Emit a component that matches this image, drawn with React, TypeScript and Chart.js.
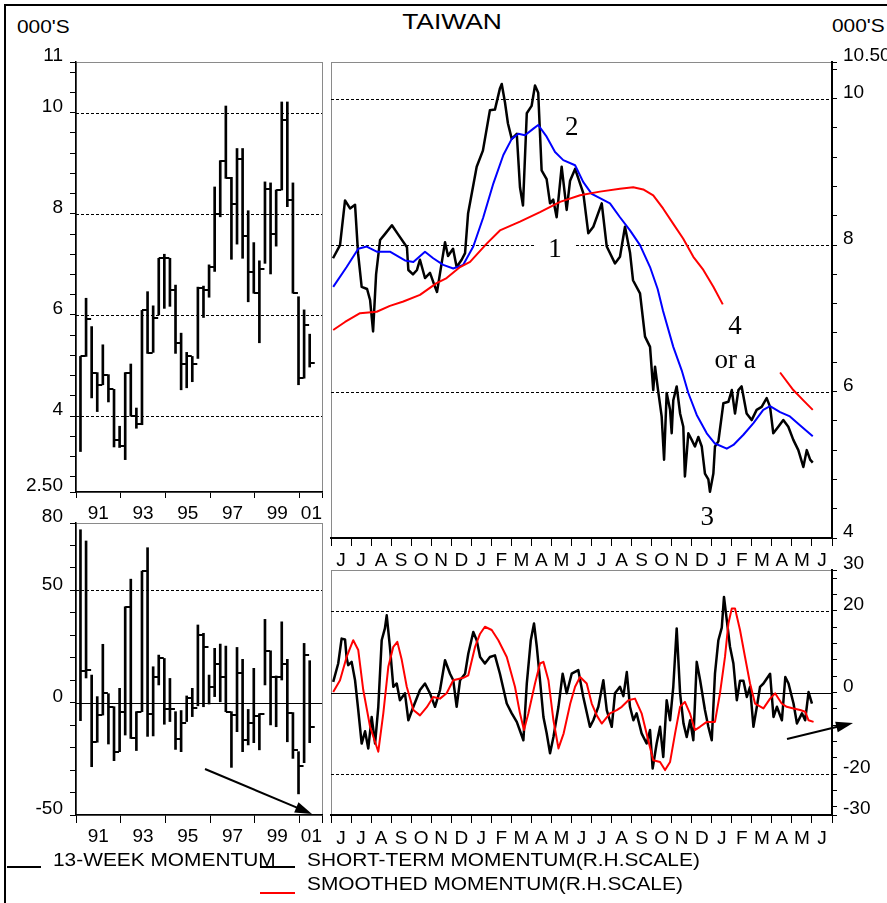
import React, { useEffect, useRef } from 'react';
import { Chart, registerables } from 'chart.js';

Chart.register(...registerables);

// ================= DATA =================
// Quarterly index (000's) : high / low / close
const quarterHigh = [5.18, 6.33, 5.77, 4.86, 5.41, 4.82, 4.53, 3.80, 4.86, 5.03, 4.16, 6.09, 6.46, 6.18, 7.12, 7.20, 7.12, 6.59, 5.64, 5.26, 5.18, 6.55, 6.57, 6.99, 8.53, 9.05, 10.13, 8.72, 9.29, 9.29, 8.06, 7.43, 7.07, 8.63, 8.61, 8.47, 10.21, 10.21, 8.61, 6.36, 6.10, 5.62];
const quarterLow = [3.30, 5.18, 4.36, 4.09, 4.62, 4.28, 3.39, 3.38, 3.14, 4.00, 3.76, 3.83, 5.24, 5.26, 6.00, 6.13, 6.17, 5.24, 4.52, 4.56, 4.68, 5.14, 5.95, 6.35, 6.86, 7.94, 8.70, 7.10, 7.40, 7.12, 6.26, 6.43, 5.45, 7.02, 6.81, 7.36, 8.47, 8.14, 6.43, 4.62, 4.75, 4.97];
const quarterClose = [5.18, 5.91, 4.86, 4.62, 4.82, 4.53, 3.53, 3.40, 4.86, 4.00, 3.84, 6.09, 5.24, 5.93, 7.12, 7.12, 6.50, 5.45, 5.03, 5.18, 5.03, 6.53, 6.49, 6.95, 8.00, 9.05, 8.70, 8.20, 9.09, 7.56, 6.84, 6.43, 6.90, 8.48, 7.60, 8.47, 9.86, 8.28, 6.43, 4.75, 5.80, 5.05];

// 13-week momentum (quarterly bars): high / low / close
const momentumHigh = [77, 72, 12.3, 2.7, 26, 4, -1.8, 6.4, 42.7, 55, -4, 58.6, 69, 16, 21.2, 19.7, 10.8, -4, -3.5, 3, 6.4, 34.6, 30.9, 12.3, 24.2, 26.1, 25.2, -4, 24.6, 19.3, -3, 15.3, -4.9, 37.1, 23.1, 11.9, 36, 19.3, -4.4, -21.8, 26.4, 18.7];
const momentumLow = [-8, 11, -28.5, -17.6, -5.5, -18.4, -25.8, -21.8, -14.4, -15.9, -21.3, -4, -15, -14.8, 7.9, -9.6, -8.4, -20.8, -21.8, -8.4, -6.2, -1.4, -1.8, -0.6, 2.7, 0.4, -4, -28.8, -12.9, -21.8, -18.8, -17.8, -21, 7.9, -9.9, -10.7, 10.1, -17.4, -24.8, -40.6, -26.7, -17.8];
const momentumClose = [14, 14.5, -17.6, -5.5, 4.5, -1.8, -21.8, -4, 42.7, -15.9, -4, 58.6, -5, 11.6, 19.7, -3, -3, -16.3, -9.2, 2, -2.5, 30.1, 25, 7.1, 17.1, 11.6, -4, -5.5, 13, -16.6, -9.2, -5.9, -4.9, 23.1, 11.6, 11.6, 17.1, -4.4, -21, -28.2, 21.2, -11];

// Year axis (left panels), in quarters from the axis start
const yearLabels = ['91', '93', '95', '97', '99', '01'];
const yearLabelPos = [4, 12, 20, 28, 36, 42.1];
const yearBoundaryPos = [0, 8, 16, 24, 32, 40, 44];

// Month axis (right panels), June 1999 .. June 2001
const monthLetters = ['J', 'J', 'A', 'S', 'O', 'N', 'D', 'J', 'F', 'M', 'A', 'M', 'J', 'J', 'A', 'S', 'O', 'N', 'D', 'J', 'F', 'M', 'A', 'M', 'J'];

// Tick labels
const leftPriceTickValues = [2.5, 4, 6, 8, 10, 11];
const leftPriceTickText = ['2.50', '4', '6', '8', '10', '11'];
const rightPriceTickValues = [4, 6, 8, 10, 10.5];
const rightPriceTickText = ['4', '6', '8', '10', '10.50'];
const leftMomTickValues = [-50, 0, 50, 80];
const leftMomTickText = ['-50', '0', '50', '80'];
const rightMomTickValues = [-30, -20, 0, 20, 30];
const rightMomTickText = ['-30', '-20', '0', '20', '30'];

// Daily index (000's), time in months since 1 June 1999
const priceT = [0.10, 0.45, 0.70, 0.95, 1.20, 1.35, 1.53, 1.80, 1.95, 2.10, 2.25, 2.45, 2.69, 3.04, 3.34, 3.79, 3.86, 4.09, 4.29, 4.44, 4.69, 4.94, 5.19, 5.29, 5.69, 5.84, 6.09, 6.27, 6.52, 6.69, 6.84, 7.27, 7.58, 7.93, 8.18, 8.43, 8.52, 8.68, 8.83, 9.02, 9.27, 9.43, 9.58, 9.77, 10.01, 10.18, 10.34, 10.51, 10.76, 10.93, 11.09, 11.26, 11.51, 11.76, 11.93, 12.18, 12.59, 12.84, 13.09, 13.51, 13.76, 14.17, 14.42, 14.67, 14.92, 15.07, 15.42, 15.67, 15.92, 16.08, 16.17, 16.32, 16.50, 16.62, 16.75, 16.92, 17.00, 17.08, 17.25, 17.42, 17.58, 17.66, 17.83, 18.00, 18.16, 18.33, 18.50, 18.66, 18.83, 18.91, 19.08, 19.16, 19.33, 19.58, 19.83, 20.00, 20.16, 20.33, 20.49, 20.74, 20.99, 21.24, 21.49, 21.74, 21.91, 22.07, 22.32, 22.57, 22.82, 23.07, 23.32, 23.57, 23.74, 23.91, 24.04];
const priceV = [7.82, 8.00, 8.61, 8.50, 8.55, 7.89, 7.43, 7.40, 7.25, 6.82, 7.60, 8.07, 8.15, 8.27, 8.15, 7.97, 7.66, 7.60, 7.66, 7.80, 7.55, 7.62, 7.43, 7.36, 8.04, 7.85, 7.95, 7.70, 7.80, 7.89, 8.43, 9.07, 9.29, 9.84, 9.85, 10.14, 10.20, 9.95, 9.66, 9.45, 9.52, 8.79, 8.54, 9.80, 9.90, 10.18, 10.08, 9.02, 8.90, 8.57, 8.62, 8.38, 9.07, 8.48, 8.88, 9.04, 8.71, 8.16, 8.25, 8.57, 7.98, 7.75, 7.84, 8.25, 7.90, 7.52, 7.34, 6.75, 6.61, 6.02, 6.34, 6.02, 5.66, 5.07, 5.98, 5.75, 5.43, 5.88, 6.07, 5.70, 5.52, 4.84, 5.43, 5.34, 5.25, 5.38, 5.25, 4.88, 4.80, 4.63, 4.88, 5.25, 5.32, 5.84, 5.86, 6.02, 5.70, 6.02, 6.07, 5.70, 5.61, 5.75, 5.79, 5.91, 5.79, 5.43, 5.52, 5.61, 5.52, 5.34, 5.20, 4.97, 5.20, 5.07, 5.03];

// Short moving average (blue)
const avgShortT = [0.11, 0.78, 1.36, 1.78, 2.28, 2.94, 3.69, 4.11, 4.69, 5.10, 5.60, 6.10, 6.60, 7.10, 7.60, 8.10, 8.60, 9.02, 9.35, 9.68, 10.10, 10.34, 10.76, 11.18, 11.59, 12.18, 12.59, 13.01, 13.42, 13.92, 14.42, 14.92, 15.42, 15.92, 16.30, 16.57, 17.08, 17.50, 17.83, 18.25, 18.75, 19.16, 19.75, 20.08, 20.58, 21.08, 21.57, 21.91, 22.41, 22.90, 23.40, 24.04];
const avgShortV = [7.43, 7.70, 7.95, 7.98, 7.91, 7.91, 7.79, 7.77, 7.91, 7.82, 7.73, 7.68, 7.73, 7.98, 8.38, 8.84, 9.23, 9.45, 9.52, 9.50, 9.59, 9.64, 9.48, 9.27, 9.16, 9.09, 8.86, 8.70, 8.64, 8.57, 8.38, 8.20, 8.00, 7.70, 7.40, 7.10, 6.61, 6.29, 5.98, 5.68, 5.43, 5.29, 5.22, 5.27, 5.41, 5.57, 5.75, 5.80, 5.72, 5.66, 5.54, 5.39];

// Long moving average (red), with a break
const avgLongT = [0.11, 0.70, 1.45, 2.28, 2.94, 3.61, 4.44, 5.27, 5.77, 6.44, 6.94, 7.77, 8.43, 9.43, 10.43, 11.43, 12.43, 13.42, 14.42, 15.08, 15.58, 16.08, 16.57, 17.08, 17.57, 18.08, 18.58, 19.08, 19.55, 21.0, 22.41, 23.07, 23.57, 24.04];
const avgLongV = [6.84, 6.95, 7.07, 7.09, 7.17, 7.23, 7.32, 7.48, 7.55, 7.70, 7.77, 8.02, 8.20, 8.32, 8.45, 8.59, 8.68, 8.73, 8.77, 8.79, 8.76, 8.68, 8.50, 8.29, 8.09, 7.84, 7.66, 7.43, 7.19, null, 6.26, 6.02, 5.88, 5.75];

// Short-term momentum (black, R.H. scale)
const stmT = [0.11, 0.36, 0.53, 0.70, 0.78, 0.86, 1.03, 1.20, 1.36, 1.53, 1.70, 1.86, 2.03, 2.20, 2.36, 2.53, 2.69, 2.78, 2.94, 3.11, 3.28, 3.44, 3.69, 3.86, 4.11, 4.44, 4.69, 4.94, 5.19, 5.44, 5.69, 5.94, 6.10, 6.27, 6.44, 6.69, 6.85, 7.10, 7.27, 7.44, 7.68, 7.93, 8.18, 8.43, 8.77, 9.02, 9.27, 9.60, 9.77, 9.97, 10.13, 10.27, 10.43, 10.60, 10.76, 10.93, 11.10, 11.35, 11.56, 11.76, 12.01, 12.34, 12.59, 12.92, 13.09, 13.34, 13.59, 13.76, 14.01, 14.17, 14.42, 14.59, 14.76, 14.92, 15.09, 15.25, 15.50, 15.75, 15.92, 16.05, 16.25, 16.42, 16.58, 16.75, 16.92, 17.08, 17.25, 17.42, 17.59, 17.75, 17.92, 18.08, 18.25, 18.42, 18.66, 18.83, 19.00, 19.16, 19.33, 19.50, 19.61, 19.75, 19.91, 20.08, 20.25, 20.41, 20.58, 20.75, 20.91, 21.08, 21.25, 21.41, 21.58, 21.91, 22.08, 22.25, 22.50, 22.67, 22.83, 23.08, 23.25, 23.50, 23.66, 23.83, 24.00];
const stmV = [2.6, 7.1, 13.2, 13.0, 8.5, 6.7, 7.5, 3.0, -4.3, -12.5, -9.5, -13.7, -6.0, -12.5, -3.5, 12.8, 15.7, 18.9, 11.2, 1.4, 2.2, -1.9, -0.2, -6.8, -3.5, 0.6, 2.2, -0.2, -3.5, 0.6, 7.9, 4.6, 3.0, -3.5, 3.0, 4.6, 9.5, 14.8, 12.8, 8.7, 7.1, 8.7, 9.1, 4.6, -2.7, -5.1, -7.2, -11.7, 2.2, 12.8, 16.9, 11.2, 3.0, -6.0, -9.9, -14.9, -10.9, -3.5, 4.6, -0.2, 4.6, 5.5, -1.1, -8.4, -6.8, -3.5, 3.0, -4.3, -8.4, -0.2, 1.4, -0.9, 5.0, -3.5, -6.8, -5.1, -10.0, -12.5, -9.2, -18.6, -12.5, -8.4, -15.8, -1.9, -6.8, 1.4, 15.7, -0.2, -7.6, -10.9, -6.8, -11.7, 7.5, 3.0, -4.3, -8.4, -11.7, 4.6, 12.8, 15.9, 23.4, 17.7, 11.2, 7.1, -1.9, 2.9, 2.9, -1.1, 1.4, -8.4, -3.5, 1.4, 2.2, 4.6, -6.0, -3.5, -6.8, 3.8, 2.2, -2.7, -7.6, -5.1, -6.8, 0.1, -2.7];

// Smoothed momentum (red, R.H. scale)
const smT = [0.11, 0.45, 0.78, 1.11, 1.36, 1.61, 1.95, 2.36, 2.61, 2.86, 3.11, 3.31, 3.53, 3.78, 4.11, 4.44, 4.78, 5.10, 5.44, 5.77, 6.10, 6.60, 6.85, 7.19, 7.44, 7.68, 8.02, 8.35, 8.77, 9.18, 9.43, 9.63, 9.85, 10.18, 10.43, 10.60, 10.85, 11.10, 11.35, 11.61, 11.94, 12.18, 12.43, 12.76, 13.01, 13.26, 13.51, 13.92, 14.26, 14.51, 14.84, 15.17, 15.50, 15.83, 16.08, 16.42, 16.67, 16.92, 17.17, 17.42, 17.66, 17.91, 18.16, 18.41, 18.75, 19.16, 19.41, 19.66, 19.83, 20.00, 20.16, 20.41, 20.66, 20.91, 21.16, 21.58, 21.91, 22.16, 22.49, 22.74, 23.08, 23.41, 23.66, 23.83, 24.08];
const smV = [0.1, 3.0, 8.7, 12.8, 10.4, 0.6, -8.4, -14.5, -5.1, 6.3, 11.2, 12.4, 8.0, 1.4, -4.3, -5.6, -3.6, -1.1, -1.5, -0.2, 3.0, 3.6, 4.2, 11.2, 14.4, 16.1, 15.3, 12.8, 8.7, 1.4, -5.1, -9.2, -5.1, 2.2, 7.1, 7.5, 3.0, -6.8, -13.7, -10.0, -2.7, 1.4, 3.8, 2.2, -2.7, -5.6, -7.6, -5.1, -4.3, -3.5, -1.9, -1.5, -5.1, -11.7, -16.6, -17.0, -19.0, -17.0, -10.0, -3.5, -2.3, -5.1, -9.2, -8.4, -7.2, -7.2, -0.2, 8.7, 16.9, 20.6, 20.6, 15.3, 8.7, 2.2, -2.7, -3.9, -1.5, -0.2, -2.7, -3.5, -3.9, -4.3, -4.7, -6.8, -7.2];

// Wave count labels on the index panel (month position, index level)
const waveLabels = [
  { text: '2', t: 12.01, v: 9.6 },
  { text: '1', t: 11.18, v: 7.94 },
  { text: '4', t: 20.16, v: 6.88 },
  { text: 'or a', t: 20.16, v: 6.42 },
  { text: '3', t: 18.78, v: 4.27 },
];

// ================= STYLE / HELPERS =================
const SANS = "'Liberation Sans', Arial, Helvetica, sans-serif";
const SERIF = "'Liberation Serif', 'Times New Roman', serif";
const tickFont = { family: SANS, size: 19 };
const TRANSPARENT = 'rgba(0,0,0,0)';

const near = (a: number, b: number) => Math.abs(a - b) < 1e-6;
const lookup = (vals: number[], texts: string[]) => (v: number) => {
  const i = vals.findIndex((x) => near(x, v));
  return i >= 0 ? texts[i] : '';
};
const range = (from: number, to: number, step: number) => {
  const out: number[] = [];
  for (let v = from; v <= to + 1e-9; v += step) out.push(Math.round(v * 1000) / 1000);
  return out;
};

const framePlugin = {
  id: 'frame',
  beforeDraw(chart: any) {
    const { ctx, chartArea: a } = chart;
    ctx.save();
    ctx.strokeStyle = '#8a8a8a';
    ctx.lineWidth = 1;
    ctx.strokeRect(Math.round(a.left) + 0.5, Math.round(a.top) + 0.5, Math.round(a.right - a.left), Math.round(a.bottom - a.top));
    ctx.restore();
  },
};

const refLinesPlugin = {
  id: 'refLines',
  beforeDatasetsDraw(chart: any, _args: any, opts: any) {
    const { ctx, chartArea: a, scales } = chart;
    const y = scales.y;
    ctx.save();
    ctx.beginPath();
    ctx.rect(a.left, a.top, a.right - a.left, a.bottom - a.top);
    ctx.clip();
    ctx.strokeStyle = '#000';
    (opts.dashed || []).forEach((v: number) => {
      const py = Math.round(y.getPixelForValue(v)) + 0.5;
      ctx.setLineDash([3, 2]);
      ctx.lineWidth = 1;
      ctx.beginPath();
      ctx.moveTo(a.left, py);
      ctx.lineTo(a.right, py);
      ctx.stroke();
    });
    (opts.solid || []).forEach((v: number) => {
      const py = Math.round(y.getPixelForValue(v)) + 0.5;
      ctx.setLineDash([]);
      ctx.lineWidth = 1.2;
      ctx.beginPath();
      ctx.moveTo(a.left, py);
      ctx.lineTo(a.right, py);
      ctx.stroke();
    });
    ctx.setLineDash([]);
    (opts.labels || []).forEach((lab: any) => {
      const px = scales.x.getPixelForValue(lab.t);
      const py = y.getPixelForValue(lab.v);
      ctx.font = `27px ${SERIF}`;
      const w = ctx.measureText(lab.text).width;
      ctx.fillStyle = '#fff';
      ctx.fillRect(px - w / 2 - 14, py - 12, w + 28, 24);
      ctx.fillStyle = '#000';
      ctx.textAlign = 'center';
      ctx.textBaseline = 'middle';
      ctx.fillText(lab.text, px, py);
    });
    ctx.restore();
  },
};

function yAxis(c: any) {
  return {
    type: 'linear',
    position: c.position,
    min: c.min,
    max: c.max,
    afterBuildTicks: (s: any) => {
      s.ticks = c.ticks.map((v: number) => ({ value: v }));
    },
    afterFit: (s: any) => {
      s.width = c.width;
    },
    ticks: {
      autoSkip: false,
      padding: c.padding,
      labelOffset: -6,
      color: '#000',
      font: tickFont,
      callback: (v: number) => c.label(v),
    },
    grid: { display: true, drawOnChartArea: false, drawTicks: true, tickLength: c.tickLength, tickColor: '#000', tickWidth: 1 },
    border: { display: true, color: '#000', width: c.borderWidth },
  };
}

function xAxis(c: any) {
  return {
    type: 'linear',
    position: 'bottom',
    min: c.min,
    max: c.max,
    offset: false,
    afterBuildTicks: (s: any) => {
      s.ticks = c.ticks.map((v: number) => ({ value: v }));
    },
    afterFit: (s: any) => {
      s.height = c.height;
    },
    ticks: {
      autoSkip: false,
      maxRotation: 0,
      minRotation: 0,
      padding: c.padding,
      color: '#000',
      font: tickFont,
      callback: (v: number) => c.label(v),
    },
    grid: {
      display: true,
      offset: false,
      drawOnChartArea: false,
      drawTicks: true,
      tickLength: c.tickLength,
      tickWidth: 1,
      tickColor: (ctx: any) => (ctx.tick && c.isMark(ctx.tick.value) ? '#000' : TRANSPARENT),
    },
    border: { display: true, color: '#000', width: c.borderWidth },
  };
}

const yearXAxis = (height: number, tickLength: number, padding: number) =>
  xAxis({
    min: 0,
    max: 44,
    ticks: [...yearBoundaryPos, ...yearLabelPos].sort((a, b) => a - b),
    label: lookup(yearLabelPos, yearLabels),
    isMark: (v: number) => yearBoundaryPos.some((b) => near(b, v)),
    height,
    tickLength,
    padding,
    borderWidth: 1.5,
  });

const monthHalf = monthLetters.map((_, i) => i + 0.5);
const monthXAxis = (height: number, padding: number) =>
  xAxis({
    min: 0,
    max: 25,
    ticks: [...range(0, 25, 1), ...monthHalf].sort((a, b) => a - b),
    label: lookup(monthHalf, monthLetters),
    isMark: (v: number) => near(v, Math.round(v)),
    height,
    tickLength: 8,
    padding,
    borderWidth: 2,
  });

const baseOptions = (padding: any, scales: any, refLines: any) => ({
  responsive: false,
  animation: false,
  events: [],
  layout: { padding },
  plugins: { legend: { display: false }, tooltip: { enabled: false }, refLines },
  scales,
});

function quarterBarsConfig(high: number[], low: number[], close: number[], tickImg: HTMLCanvasElement, opts: any) {
  return {
    type: 'scatter',
    data: {
      datasets: [
        {
          type: 'scatter',
          data: close.map((c, i) => ({ x: i + 0.8, y: c })),
          pointStyle: tickImg,
          pointRadius: 3,
          pointHoverRadius: 3,
        },
        {
          type: 'bar',
          data: high.map((h, i) => ({ x: i + 0.8, y: [low[i], h] })),
          backgroundColor: '#000',
          borderWidth: 0,
          barThickness: 2,
        },
      ],
    },
    options: baseOptions(opts.padding, { x: opts.x, y: opts.y }, opts.refLines),
    plugins: [framePlugin, refLinesPlugin],
  };
}

const series = (t: number[], v: (number | null)[]) => t.map((x, i) => ({ x, y: v[i] }));
const lineDs = (data: any, color: string, width: number) => ({
  type: 'line',
  data,
  borderColor: color,
  borderWidth: width,
  pointRadius: 0,
  tension: 0,
  spanGaps: false,
  fill: false,
  borderJoinStyle: 'round',
});

function makeCloseTick() {
  const c = document.createElement('canvas');
  c.width = 12;
  c.height = 2;
  const g = c.getContext('2d')!;
  g.fillStyle = '#000';
  g.fillRect(6, 0, 5, 2);
  return c;
}

function Arrow({ x1, y1, x2, y2 }: any) {
  const dx = x2 - x1;
  const dy = y2 - y1;
  const len = Math.hypot(dx, dy);
  const ux = dx / len;
  const uy = dy / len;
  const hl = 17;
  const hw = 5.5;
  const bx = x2 - ux * hl;
  const by = y2 - uy * hl;
  const pts = `${x2},${y2} ${bx - uy * hw},${by + ux * hw} ${bx + uy * hw},${by - ux * hw}`;
  return (
    <g>
      <line x1={x1} y1={y1} x2={bx + ux * 2} y2={by + uy * 2} stroke="#000" strokeWidth={2} />
      <polygon points={pts} fill="#000" />
    </g>
  );
}

const txt = (left: number, top: number, size: number, sx: number): React.CSSProperties => ({
  position: 'absolute',
  left,
  top,
  fontFamily: SANS,
  fontSize: size,
  lineHeight: `${size + 2}px`,
  whiteSpace: 'nowrap',
  transform: `scaleX(${sx})`,
  transformOrigin: 'left center',
  color: '#000',
});

export default function App() {
  const refA = useRef<HTMLCanvasElement>(null);
  const refB = useRef<HTMLCanvasElement>(null);
  const refC = useRef<HTMLCanvasElement>(null);
  const refD = useRef<HTMLCanvasElement>(null);

  useEffect(() => {
    const charts: Chart[] = [];
    const tickImg = makeCloseTick();

    // Top-left: quarterly index bars
    charts.push(
      new Chart(refA.current as any, quarterBarsConfig(quarterHigh, quarterLow, quarterClose, tickImg, {
        padding: { top: 22, right: 4, left: 0, bottom: 0 },
        x: yearXAxis(38, 6, 4),
        y: yAxis({
          position: 'left', min: 2.5, max: 11,
          ticks: [2.5, ...range(2.8, 10.8, 0.4), 11],
          label: lookup(leftPriceTickValues, leftPriceTickText),
          width: 76, padding: 7, tickLength: 6, borderWidth: 1.5,
        }),
        refLines: { dashed: [4, 6, 8, 10] },
      }) as any)
    );

    // Bottom-left: 13-week momentum bars
    charts.push(
      new Chart(refC.current as any, quarterBarsConfig(momentumHigh, momentumLow, momentumClose, tickImg, {
        padding: { top: 28, right: 4, left: 0, bottom: 0 },
        x: yearXAxis(35, 8, 2),
        y: yAxis({
          position: 'left', min: -50, max: 80,
          ticks: range(-50, 80, 10),
          label: lookup(leftMomTickValues, leftMomTickText),
          width: 76, padding: 7, tickLength: 6, borderWidth: 1.5,
        }),
        refLines: { dashed: [50], solid: [0] },
      }) as any)
    );

    // Top-right: daily index with averages
    charts.push(
      new Chart(refB.current as any, {
        type: 'scatter',
        data: {
          datasets: [
            lineDs(series(avgLongT, avgLongV), '#ff0000', 2),
            lineDs(series(avgShortT, avgShortV), '#0000ff', 2),
            lineDs(series(priceT, priceV), '#000000', 2.5),
          ],
        },
        options: baseOptions(
          { top: 22, right: 0, left: 5, bottom: 0 },
          {
            x: monthXAxis(37, 3),
            y: yAxis({
              position: 'right', min: 4, max: 10.5,
              ticks: [...range(4, 10.4, 0.4), 10.5],
              label: lookup(rightPriceTickValues, rightPriceTickText),
              width: 55, padding: 6, tickLength: 5, borderWidth: 2,
            }),
          },
          { dashed: [6, 8, 10], labels: waveLabels }
        ),
        plugins: [framePlugin, refLinesPlugin],
      } as any)
    );

    // Bottom-right: short-term & smoothed momentum
    charts.push(
      new Chart(refD.current as any, {
        type: 'scatter',
        data: {
          datasets: [
            lineDs(series(smT, smV), '#ff0000', 2),
            lineDs(series(stmT, stmV), '#000000', 2.5),
          ],
        },
        options: baseOptions(
          { top: 30, right: 0, left: 5, bottom: 0 },
          {
            x: monthXAxis(35, 4),
            y: yAxis({
              position: 'right', min: -30, max: 30,
              ticks: [-30, ...range(-28, 28, 4), 30],
              label: lookup(rightMomTickValues, rightMomTickText),
              width: 55, padding: 6, tickLength: 5, borderWidth: 2,
            }),
          },
          { dashed: [20, -20], solid: [0] }
        ),
        plugins: [framePlugin, refLinesPlugin],
      } as any)
    );

    return () => charts.forEach((c) => c.destroy());
  }, []);

  const cv = (left: number, top: number): React.CSSProperties => ({ position: 'absolute', left, top });

  return (
    <div style={{ position: 'absolute', left: 0, top: 0, width: 887, height: 903, overflow: 'hidden', background: '#fff' }}>
      <div style={{ position: 'absolute', left: 4, top: 4, width: 1200, height: 1200, borderTop: '2px solid #000', borderLeft: '2px solid #000' }} />
      <canvas ref={refA} width={326} height={490} style={cv(0, 40)} />
      <canvas ref={refC} width={326} height={355} style={cv(0, 495)} />
      <canvas ref={refB} width={561} height={535} style={cv(326, 40)} />
      <canvas ref={refD} width={561} height={310} style={cv(326, 540)} />

      <div style={{ position: 'absolute', left: 352, top: 9, width: 200, textAlign: 'center', fontFamily: SANS, fontSize: 22, lineHeight: '25px', transform: 'scaleX(1.2)', transformOrigin: 'center center' }}>TAIWAN</div>
      <div style={txt(17, 17, 18, 1.16)}>000'S</div>
      <div style={txt(832, 16, 18, 1.16)}>000'S</div>

      <div style={{ position: 'absolute', left: 7, top: 866, width: 34, height: 2, background: '#000' }} />
      <div style={txt(53, 850, 18, 1.16)}>13-WEEK MOMENTUM</div>
      <div style={{ position: 'absolute', left: 260, top: 866, width: 35, height: 2, background: '#000' }} />
      <div style={txt(307, 850, 18, 1.16)}>SHORT-TERM MOMENTUM(R.H.SCALE)</div>
      <div style={{ position: 'absolute', left: 260, top: 892, width: 35, height: 2, background: '#ff0000' }} />
      <div style={txt(307, 874, 18, 1.16)}>SMOOTHED MOMENTUM(R.H.SCALE)</div>

      <svg width={887} height={903} style={{ position: 'absolute', left: 0, top: 0, pointerEvents: 'none' }}>
        <Arrow x1={205} y1={769} x2={312} y2={814} />
        <Arrow x1={787} y1={739} x2={853} y2={723} />
      </svg>
    </div>
  );
}
